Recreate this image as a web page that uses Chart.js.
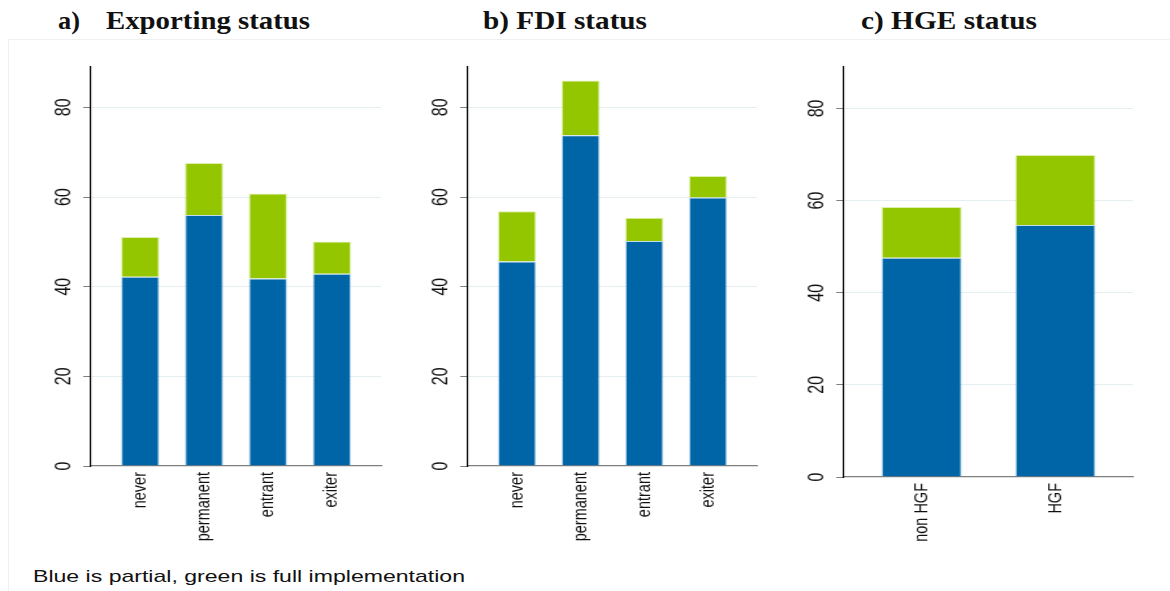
<!DOCTYPE html>
<html>
<head>
<meta charset="utf-8">
<script src="https://cdn.jsdelivr.net/npm/chart.js@4.4.1/dist/chart.umd.min.js"></script>
<style>
  html, body { margin: 0; padding: 0; background: #fff; }
  body { width: 1170px; height: 591px; position: relative; overflow: hidden; font-family: "Liberation Sans", Arial, sans-serif; }
  .frame { position: absolute; left: 8px; top: 39px; right: 0; bottom: 0; border-top: 1px solid #f0f0f0; border-left: 1px solid #f0f0f0; }
  .title { position: absolute; top: 8px; line-height: 26px; font-family: "Liberation Serif", "Times New Roman", serif; font-weight: bold; font-size: 26px; color: #111; white-space: nowrap; transform-origin: 0 0; }
  .panel { position: absolute; top: 50px; transform-origin: 0 0; }
  .note { position: absolute; left: 33px; top: 568px; line-height: 17px; font-size: 17px; color: #111; white-space: nowrap; transform-origin: 0 0; }
</style>
</head>
<body>
<div class="frame"></div>

<span class="title" style="left:58px" data-w="22">a)</span>
<span class="title" style="left:106px" data-w="204">Exporting status</span>
<span class="title" style="left:483px" data-w="164">b) FDI status</span>
<span class="title" style="left:861px" data-w="176">c) HGE status</span>

<canvas id="chartA" class="panel" style="left:13px" width="287" height="510"></canvas>
<canvas id="chartB" class="panel" style="left:390px" width="287" height="510"></canvas>
<canvas id="chartC" class="panel" style="left:766px" width="287" height="510"></canvas>

<div class="note" data-w="432">Blue is partial, green is full implementation</div>

<script>
// a) exporting status
const exportCats = ['never', 'permanent', 'entrant', 'exiter'];
const exportPartial = [42.2, 56.0, 41.8, 42.9];
const exportFull = [8.9, 11.6, 19.0, 7.2];

// b) FDI status
const fdiCats = ['never', 'permanent', 'entrant', 'exiter'];
const fdiPartial = [45.6, 73.8, 50.2, 59.9];
const fdiFull = [11.2, 12.2, 5.2, 4.8];

// c) high-growth status
const hgeCats = ['non HGF', 'HGF'];
const hgePartial = [47.6, 54.7];
const hgeFull = [11.0, 15.2];

// shared y axis
const yTicks = [0, 20, 40, 60, 80];
const yMax = 89;

const BLUE = '#0065a6';
const GREEN = '#94c600';
const FONT = '"Liberation Sans", Arial, sans-serif';
const STRETCH = 1.3;   // graphs are drawn narrow and widened on the page

// stretch each text block to its target width
document.querySelectorAll('[data-w]').forEach(el => {
  const w = el.getBoundingClientRect().width;
  el.style.transform = 'scaleX(' + (parseFloat(el.dataset.w) / w) + ')';
});

// pageLeft: canvas left on page; plotRight: right edge of plot on page
function makeChart(id, cats, partial, full, xPad, xAxisHeight, pageLeft, plotRight) {
  const canvas = document.getElementById(id);
  const innerRight = (plotRight - pageLeft) / STRETCH;
  const rightPad = canvas.width - innerRight;
  const points = arr => arr.map((v, i) => ({ x: i + 1, y: v }));
  const chart = new Chart(canvas, {
    type: 'bar',
    data: {
      datasets: [
        { label: 'Partial', data: points(partial), backgroundColor: BLUE, borderColor: 'rgba(150,195,230,0.6)', borderWidth: 1 },
        { label: 'Full', data: points(full), backgroundColor: GREEN, borderColor: 'rgba(200,230,120,0.6)', borderWidth: 1 }
      ]
    },
    options: {
      responsive: false,
      animation: false,
      devicePixelRatio: 1,
      layout: { padding: { top: 17, right: rightPad, left: 0, bottom: 0 } },
      plugins: { legend: { display: false }, tooltip: { enabled: false } },
      datasets: { bar: { barPercentage: 0.6, categoryPercentage: 1 } },
      scales: {
        x: {
          type: 'linear',
          offset: false,
          stacked: true,
          min: 1 - xPad,
          max: cats.length + xPad,
          afterBuildTicks: s => { s.ticks = cats.map((c, i) => ({ value: i + 1 })); },
          afterFit: s => { s.height = xAxisHeight; },
          grid: { display: false, drawTicks: false, offset: false },
          border: { display: true, color: '#7f7f7f', width: 1.3 },
          ticks: {
            autoSkip: false, minRotation: 90, maxRotation: 90, padding: 6,
            color: '#111', font: { family: FONT, size: 14.5 },
            callback: v => cats[Math.round(v) - 1] || ''
          }
        },
        y: {
          type: 'linear',
          stacked: true,
          min: 0,
          max: yMax,
          afterBuildTicks: s => { s.ticks = yTicks.map(v => ({ value: v })); },
          afterFit: s => { s.width = 60; },
          grid: {
            color: ctx => (ctx.tick && ctx.tick.value === 0) ? 'rgba(0,0,0,0)' : '#e5eef0',
            tickColor: '#7f7f7f', tickLength: 6, lineWidth: 1
          },
          border: { color: '#000', width: 1.1 },
          ticks: {
            minRotation: 90, maxRotation: 90, crossAlign: 'center', padding: 6,
            color: '#111', font: { family: FONT, size: 16 }
          }
        }
      }
    }
  });
  canvas.style.transform = 'scaleX(' + STRETCH + ')';
  return chart;
}

makeChart('chartA', exportCats, exportPartial, exportFull, 0.77, 94, 13, 381);
makeChart('chartB', fdiCats, fdiPartial, fdiFull, 0.77, 94, 390, 757);
makeChart('chartC', hgeCats, hgePartial, hgeFull, 0.58, 83, 766, 1133);
</script>
</body>
</html>
